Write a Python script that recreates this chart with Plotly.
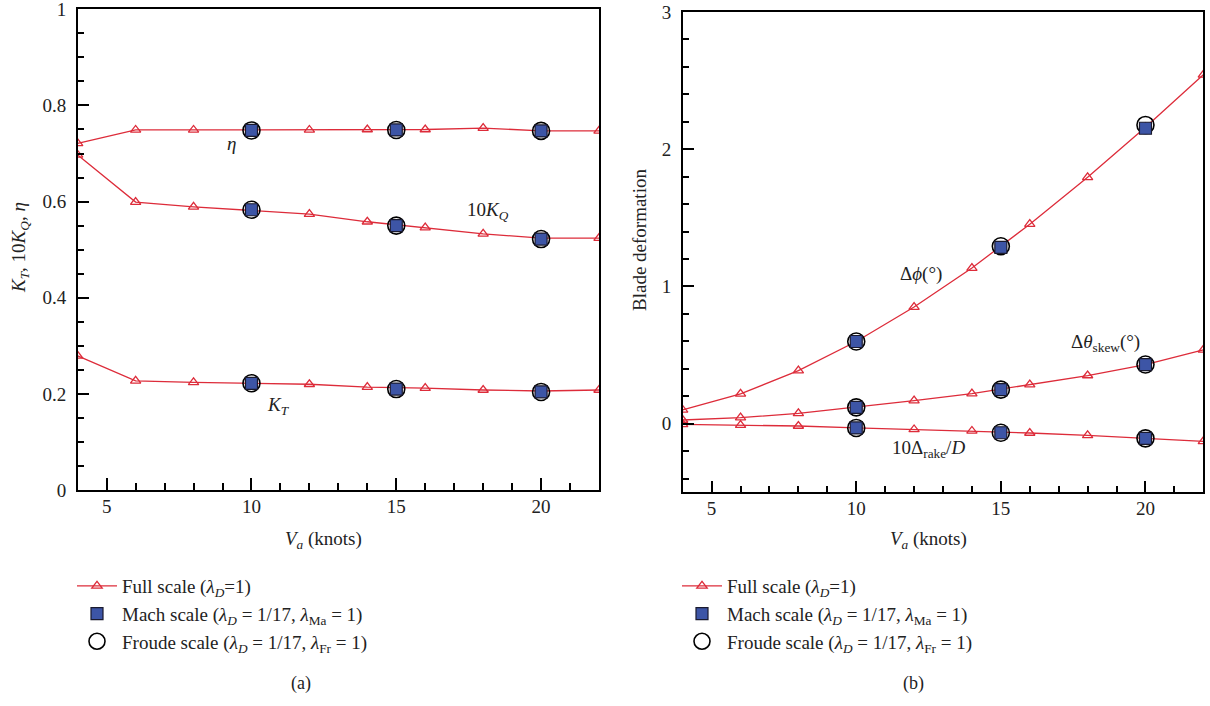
import plotly.graph_objects as go

W, H = 1210, 706

# ---------------- data (a) ----------------
va_full = [4, 6, 8, 10, 12, 14, 16, 18, 20, 22]
eta_full = [0.721, 0.749, 0.749, 0.749, 0.749, 0.750, 0.750, 0.753, 0.747, 0.747]
kq10_full = [0.697, 0.599, 0.589, 0.582, 0.574, 0.558, 0.546, 0.533, 0.524, 0.524]
kt_full = [0.279, 0.227, 0.224, 0.222, 0.220, 0.214, 0.212, 0.208, 0.206, 0.208]

va_model = [10, 15, 20]
eta_mach = [0.748, 0.749, 0.747]
kq10_mach = [0.583, 0.550, 0.522]
kt_mach = [0.222, 0.210, 0.204]
eta_froude = [0.748, 0.749, 0.747]
kq10_froude = [0.583, 0.550, 0.522]
kt_froude = [0.222, 0.210, 0.204]

# ---------------- data (b) ----------------
dphi_full = [0.100, 0.217, 0.387, 0.599, 0.850, 1.134, 1.454, 1.795, 2.160, 2.542]
dskew_full = [0.027, 0.044, 0.075, 0.119, 0.168, 0.219, 0.285, 0.351, 0.431, 0.538]
drake_full = [-0.005, -0.010, -0.017, -0.031, -0.042, -0.053, -0.068, -0.085, -0.107, -0.129]

dphi_mach = [0.599, 1.285, 2.153]
dskew_mach = [0.119, 0.248, 0.431]
drake_mach = [-0.031, -0.066, -0.107]
dphi_froude = [0.599, 1.293, 2.177]
dskew_froude = [0.119, 0.248, 0.431]
drake_froude = [-0.031, -0.066, -0.107]

RED = "#DD2C3A"
BLUE = "#3D55A6"
FONT = "Liberation Serif"


def joined(xs, *series):
    X, Y = [], []
    for i, s in enumerate(series):
        if i:
            X.append(None)
            Y.append(None)
        X.extend(xs)
        Y.extend(s)
    return X, Y


legend_full = "Full scale (<i>λ<sub>D</sub></i>=1)"
legend_mach = "Mach scale (<i>λ<sub>D</sub></i> = 1/17, <i>λ</i><sub>Ma</sub> = 1)"
legend_froude = "Froude scale (<i>λ<sub>D</sub></i> = 1/17, <i>λ</i><sub>Fr</sub> = 1)"

fig = go.Figure()


def add_panel(xa, ya, leg, full_series, mach_series, froude_series):
    fx, fy = joined(va_full, *full_series)
    mx, my = joined(va_model, *mach_series)
    cx, cy = joined(va_model, *froude_series)
    fig.add_trace(go.Scatter(
        x=fx, y=fy, mode="lines+markers", name=legend_full,
        line=dict(color=RED, width=1.3),
        marker=dict(symbol="triangle-up-open", size=9, color=RED, line=dict(width=1.3, color=RED)),
        xaxis=xa, yaxis=ya, legend=leg, legendrank=1, legendgroup=leg + "a", connectgaps=False))
    fig.add_trace(go.Scatter(
        x=cx, y=cy, mode="markers", name=legend_froude,
        marker=dict(symbol="circle-open", size=17, color="black", line=dict(width=1.6, color="black")),
        xaxis=xa, yaxis=ya, legend=leg, legendrank=3, legendgroup=leg + "c"))
    fig.add_trace(go.Scatter(
        x=mx, y=my, mode="markers", name=legend_mach,
        marker=dict(symbol="square", size=12, color=BLUE, line=dict(width=1.2, color="#1a1a2e")),
        xaxis=xa, yaxis=ya, legend=leg, legendrank=2, legendgroup=leg + "b"))


add_panel("x", "y", "legend", [eta_full, kq10_full, kt_full],
          [eta_mach, kq10_mach, kt_mach], [eta_froude, kq10_froude, kt_froude])
add_panel("x2", "y2", "legend2", [dphi_full, dskew_full, drake_full],
          [dphi_mach, dskew_mach, drake_mach], [dphi_froude, dskew_froude, drake_froude])

axis_common = dict(
    showline=True, linewidth=1.5, linecolor="black", mirror=True,
    ticks="inside", ticklen=12, tickwidth=1.5, tickcolor="black",
    showgrid=False, zeroline=False, automargin=False, ticklabeloverflow="allow",
    tickfont=dict(family=FONT, size=19, color="#222"),
)

xa_common = dict(axis_common, range=[4, 22], tick0=0, dtick=5, ticklabelstandoff=-2,
                 minor=dict(ticks="inside", ticklen=7, tickwidth=1.5, tickcolor="black",
                            tick0=0, dtick=1, showgrid=False))

legend_common = dict(xanchor="left", yanchor="top", bgcolor="rgba(0,0,0,0)",
                     font=dict(family=FONT, size=19, color="#222"),
                     tracegroupgap=0, itemwidth=40)

fig.update_layout(
    template="none",
    width=W, height=H,
    margin=dict(l=0, r=0, t=0, b=0, autoexpand=False),
    paper_bgcolor="white", plot_bgcolor="white",
    font=dict(family=FONT, size=19, color="#222"),
    xaxis=dict(xa_common, domain=[77.7 / W, 599 / W], anchor="y"),
    yaxis=dict(axis_common, domain=[1 - 490 / H, 1 - 9.3 / H], anchor="x", range=[0, 1],
               tick0=0, dtick=0.2, ticklabelstandoff=6,
               minor=dict(ticks="inside", ticklen=7, tickwidth=1.5, tickcolor="black",
                          tick0=0, dtick=0.05, showgrid=False)),
    xaxis2=dict(xa_common, domain=[682.7 / W, 1203.3 / W], anchor="y2"),
    yaxis2=dict(axis_common, domain=[1 - 492.3 / H, 1 - 12 / H], anchor="x2", range=[-0.5, 3],
                tick0=0, dtick=1, ticklabelstandoff=6,
                minor=dict(ticks="inside", ticklen=7, tickwidth=1.5, tickcolor="black",
                           tick0=0, dtick=0.2, showgrid=False)),
    legend=dict(legend_common, x=72 / W, y=1 - 567 / H),
    legend2=dict(legend_common, x=(72 + 605) / W, y=1 - 567 / H),
)


def note(x, y, text, xref="paper", yref="paper", size=19, angle=0):
    return dict(x=x, y=y, xref=xref, yref=yref, text=text, showarrow=False,
                xanchor="center", yanchor="middle", textangle=angle,
                font=dict(family=FONT, size=size, color="#222"))


ann = [
    # in-plot labels (a)
    note(9.31, 0.72, "<i>η</i>", "x", "y"),
    note(18.17, 0.58, "10<i>K<sub>Q</sub></i>", "x", "y"),
    note(10.92, 0.175, "<i>K<sub>T</sub></i>", "x", "y"),
    # in-plot labels (b)
    note(12.24, 1.09, "Δ<i>ϕ</i>(°)", "x2", "y2"),
    note(18.63, 0.59, "Δ<i>θ</i><sub>skew</sub>(°)", "x2", "y2"),
    note(12.5, -0.185, "10Δ<sub>rake</sub>/<i>D</i>", "x2", "y2"),
    # axis titles
    note(323 / W, 1 - 540 / H, "<i>V<sub>a</sub></i> (knots)"),
    note(928 / W, 1 - 540 / H, "<i>V<sub>a</sub></i> (knots)"),
    note(20 / W, 1 - 248 / H, "<i>K<sub>T</sub></i>, 10<i>K<sub>Q</sub></i>, <i>η</i>", angle=-90),
    note(639 / W, 1 - 240 / H, "Blade deformation", angle=-90),
    # panel captions
    note(301 / W, 1 - 683 / H, "(a)", size=18),
    note(914 / W, 1 - 683 / H, "(b)", size=18),
]
fig.update_layout(annotations=ann)

fig.write_html(
    "out.html",
    config={"displayModeBar": False},
    post_script="document.body.style.margin='0px';document.body.style.overflow='hidden';",
)
